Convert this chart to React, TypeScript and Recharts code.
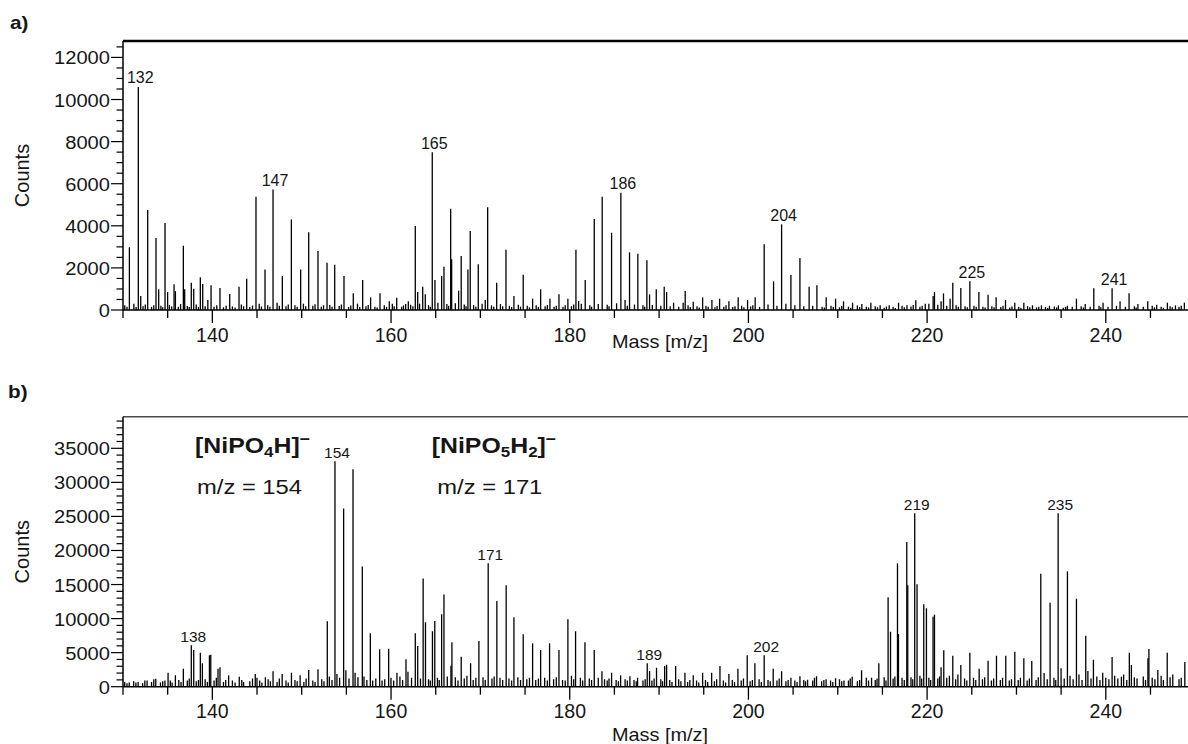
import { BarChart, Bar, XAxis, YAxis, ReferenceLine, LabelList, Label } from "recharts";

// ---- panel a: main peaks [m/z, counts]
const peaksA: [number, number][] = [
  [130.72, 2980], [131.72, 10600], [131.99, 665], [132.77, 4750], [133.7, 3420], [134.0, 980],
  [134.71, 4130], [135.0, 855], [135.72, 1220], [135.87, 893], [136.76, 3050], [136.91, 980],
  [137.65, 1300], [137.92, 1010], [138.66, 1550], [138.93, 1235], [139.86, 1170], [140.86, 1045],
  [141.95, 760], [142.99, 1110], [143.85, 1490], [144.89, 5380], [145.9, 1930], [146.8, 5730],
  [147.84, 1615], [148.85, 4305], [149.89, 1930], [150.79, 3690], [151.83, 2800], [152.84, 2250],
  [153.7, 2150], [154.74, 1615], [155.78, 790], [156.83, 1425], [157.72, 600], [158.77, 790],
  [159.81, 412], [160.64, 585], [161.64, 285], [161.94, 410], [162.72, 3990], [162.99, 855],
  [163.55, 1107], [163.84, 745], [164.62, 7490], [164.92, 1425], [165.67, 1615], [165.93, 2055],
  [166.68, 4810], [166.79, 2407], [167.57, 917], [167.86, 2564], [168.61, 1930], [168.87, 3750],
  [169.77, 2170], [170.55, 475], [170.82, 4876], [171.83, 1296], [172.87, 2863], [173.76, 665],
  [174.8, 1676], [175.85, 537], [176.75, 983], [177.79, 537], [178.8, 745], [179.8, 537],
  [180.7, 2863], [181.0, 430], [181.74, 1425], [182.75, 4320], [183.64, 5380], [184.69, 3670],
  [185.73, 5570], [186.7, 2740], [187.63, 2673], [188.64, 2360], [188.94, 745], [189.69, 983],
  [190.58, 1107], [190.85, 855], [191.63, 347], [192.7, 347], [192.93, 900], [193.83, 395],
  [194.88, 600], [195.92, 475], [196.78, 537], [197.82, 412], [198.86, 600], [199.91, 475],
  [200.76, 600], [201.77, 3120], [202.82, 1362], [203.72, 4070], [204.76, 1662], [205.77, 2470],
  [206.8, 1107], [207.67, 1173], [208.71, 600], [209.76, 537], [210.65, 412], [211.66, 347],
  [212.7, 285], [213.71, 347], [214.75, 220], [215.76, 220], [216.81, 347], [217.75, 220],
  [218.74, 460], [219.8, 300], [220.68, 665], [220.83, 855], [221.57, 412], [221.84, 790],
  [222.58, 537], [222.88, 1296], [223.78, 1045], [224.79, 1362], [225.8, 855], [226.83, 727],
  [227.73, 600], [228.78, 475], [229.82, 347], [230.83, 347], [231.8, 220], [232.8, 220],
  [233.7, 200], [234.7, 220], [235.7, 200], [236.72, 537], [237.7, 285], [238.66, 1030],
  [239.7, 347], [240.71, 1030], [241.6, 412], [242.61, 790], [243.6, 285], [244.7, 412],
  [245.7, 250], [246.9, 347], [247.8, 220], [248.8, 347],
];

// baseline noise between the peaks
const noiseA: [number, number][] = [
  [130.2, 220], [130.45, 160], [131.22, 300], [131.47, 140], [132.25, 180], [132.5, 260], [133.2, 150], [133.45, 220],
  [134.25, 200], [134.45, 130], [135.2, 240], [135.45, 170], [136.2, 150], [136.45, 280], [137.2, 190], [137.42, 140],
  [138.2, 260], [138.45, 150], [139.2, 180], [139.5, 475], [140.2, 160], [140.5, 230], [141.25, 130], [141.55, 200],
  [142.25, 170], [142.55, 120], [143.25, 260], [143.5, 180], [144.2, 140], [144.5, 210], [145.25, 300], [145.5, 170],
  [146.2, 220], [146.45, 150], [147.25, 350], [147.5, 200], [148.25, 180], [148.5, 260], [149.25, 230], [149.5, 150],
  [150.2, 300], [150.45, 180], [151.25, 200], [151.5, 270], [152.2, 150], [152.45, 220], [153.15, 240], [153.4, 160],
  [154.2, 190], [154.45, 260], [155.25, 150], [155.5, 210], [156.25, 300], [156.5, 140], [157.2, 180], [157.45, 240],
  [158.2, 160], [158.45, 120], [159.25, 220], [159.5, 150], [160.15, 300], [160.35, 180], [161.2, 160], [161.4, 220],
  [162.2, 250], [162.45, 180], [163.2, 300], [164.2, 230], [164.4, 160], [165.25, 350], [166.25, 280], [166.45, 200],
  [167.2, 320], [168.2, 260], [168.4, 180], [169.25, 240], [169.5, 160], [170.2, 300], [171.25, 220], [171.5, 150],
  [172.25, 280], [172.5, 180], [173.25, 200], [173.5, 140], [174.25, 250], [174.5, 160], [175.25, 200], [175.5, 130],
  [176.25, 220], [176.5, 150], [177.25, 180], [177.5, 240], [178.25, 160], [178.5, 200], [179.25, 150], [179.5, 220],
  [180.2, 180], [180.45, 260], [181.3, 300], [182.25, 220], [182.45, 160], [183.2, 280], [184.2, 250], [184.4, 180],
  [185.25, 320], [186.2, 475], [186.45, 200], [187.25, 260], [188.2, 220], [188.4, 150], [189.25, 240], [190.2, 200],
  [191.25, 180], [192.2, 150], [193.25, 220], [193.5, 140], [194.25, 180], [194.5, 120], [195.25, 200], [195.5, 150],
  [196.25, 130], [196.5, 190], [197.25, 160], [197.5, 220], [198.25, 140], [198.5, 180], [199.25, 200], [199.5, 130],
  [200.25, 170], [200.5, 230], [201.25, 150], [202.2, 260], [203.2, 200], [204.2, 300], [205.2, 220], [206.2, 180],
  [207.2, 200], [208.25, 160], [208.5, 120], [209.25, 200], [209.5, 140], [210.2, 130], [210.45, 190], [211.2, 160],
  [211.45, 110], [212.2, 220], [212.45, 140], [213.2, 150], [213.45, 120], [214.2, 180], [214.45, 130], [215.2, 110],
  [215.45, 170], [216.2, 150], [216.45, 100], [217.2, 200], [217.45, 130], [218.2, 170], [218.45, 240], [219.2, 150],
  [219.45, 200], [220.2, 300], [221.2, 250], [222.2, 200], [223.25, 220], [223.5, 160], [224.25, 180], [224.5, 130],
  [225.25, 200], [225.5, 150], [226.25, 160], [226.5, 120], [227.25, 180], [227.5, 130], [228.25, 140], [228.5, 200],
  [229.25, 120], [229.5, 170], [230.25, 150], [230.5, 110], [231.25, 180], [231.5, 130], [232.25, 120], [232.5, 160],
  [233.25, 140], [233.5, 100], [234.25, 170], [234.5, 120], [235.25, 110], [235.5, 150], [236.25, 160], [237.25, 180],
  [237.5, 120], [238.25, 150], [239.25, 200], [239.45, 130], [240.25, 160], [241.2, 200], [242.2, 150], [243.2, 180],
  [243.4, 120], [244.2, 160], [245.2, 200], [245.45, 130], [246.2, 150], [246.45, 110], [247.2, 180], [247.45, 130],
  [248.2, 150], [248.45, 200],
];

// nominal masses printed above the strongest peaks
const tagsA: [number, string][] = [
  [131.72, "132"], [146.8, "147"], [164.62, "165"], [185.73, "186"],
  [203.72, "204"], [224.79, "225"], [240.71, "241"],
];

// ---- panel b
const peaksB: [number, number][] = [
  [130.7, 600], [131.7, 700], [132.7, 900], [133.67, 1175], [134.7, 900], [135.05, 2057],
  [135.87, 1665], [136.76, 2645], [137.65, 6070], [137.92, 5390], [138.66, 4995], [138.89, 3427],
  [139.68, 4603], [139.83, 4700], [140.64, 2645], [140.86, 2840], [141.83, 1665], [143.02, 1469],
  [144.81, 1860], [145.0, 1300], [145.94, 1400], [146.8, 2253], [147.82, 1860], [148.86, 2057],
  [149.83, 1665], [150.79, 2448], [151.83, 2550], [152.87, 9600], [153.73, 33100], [154.7, 26150],
  [155.75, 31930], [156.79, 17630], [157.69, 7836], [158.73, 5484], [159.74, 5580], [160.67, 2057],
  [161.68, 4015], [162.72, 7836], [162.99, 5980], [163.6, 15870], [163.86, 9450], [164.64, 8130],
  [164.9, 9650], [165.67, 10630], [165.93, 13520], [166.71, 3085], [166.82, 6510], [167.86, 4407],
  [168.91, 3427], [169.84, 6710], [170.88, 18120], [171.85, 12590], [172.89, 14890], [173.76, 10190],
  [174.8, 7690], [175.85, 6370], [176.75, 5390], [177.75, 6370], [178.8, 5390], [179.8, 9890],
  [180.66, 8130], [181.71, 6510], [182.75, 5390], [183.61, 2253], [184.69, 2057], [185.7, 1665],
  [186.74, 1520], [187.6, 1320], [188.68, 3427], [188.94, 2300], [189.72, 2790], [190.63, 3040],
  [190.85, 3230], [191.86, 3040], [192.9, 2057], [193.83, 1665], [194.88, 2057], [195.89, 2057],
  [196.82, 3040], [197.82, 1860], [198.83, 2645], [199.87, 4600], [200.73, 3427], [201.77, 4600],
  [202.78, 2645], [203.72, 2253], [204.76, 1320], [205.77, 1520], [206.63, 1030], [207.63, 1520],
  [208.7, 1100], [209.76, 1225], [210.7, 900], [211.62, 1470], [212.67, 2400], [213.79, 1320],
  [214.6, 3427], [215.64, 13130], [215.91, 8080], [216.69, 18120], [216.8, 7740], [217.73, 21250],
  [217.84, 14890], [218.62, 25460], [218.88, 15030], [219.63, 12100], [219.93, 11510], [220.67, 10280],
  [220.83, 10580], [221.57, 2840], [221.87, 5340], [222.88, 4550], [223.78, 3180], [224.79, 4995],
  [225.83, 2645], [226.83, 3820], [227.77, 4550], [228.81, 4550], [229.82, 5140], [230.83, 4160],
  [231.72, 3770], [232.73, 16600], [233.77, 12340], [234.67, 25460], [235.71, 16940], [236.72, 12930],
  [237.76, 7490], [238.62, 3970], [239.66, 2057], [240.71, 4360], [241.75, 1470], [242.64, 4995],
  [242.87, 3180], [244.72, 4160], [244.83, 5540], [245.83, 2450], [246.88, 4995], [248.85, 3620],
];

const noiseB: [number, number][] = [
  [130.2, 700], [130.45, 500], [131.2, 800], [131.45, 600], [132.2, 500], [132.45, 900], [133.2, 700], [133.45, 1100],
  [134.2, 600], [134.45, 800], [135.3, 900], [135.5, 600], [136.25, 1000], [136.5, 700], [137.2, 900], [137.42, 1200],
  [138.2, 800], [138.45, 1000], [139.2, 1100], [139.45, 700], [140.2, 900], [140.45, 1300], [141.25, 700], [141.5, 1000],
  [142.25, 900], [142.55, 600], [143.3, 1000], [143.5, 700], [144.2, 800], [144.5, 1200], [145.3, 900], [145.55, 600],
  [146.25, 1100], [146.5, 800], [147.25, 700], [147.5, 1200], [148.25, 900], [148.5, 600], [149.25, 1000], [149.5, 800],
  [150.25, 700], [150.5, 1200], [151.25, 900], [151.5, 700], [152.25, 1100], [152.5, 800], [153.1, 1500], [153.4, 1000],
  [153.95, 1860], [154.25, 1300], [154.95, 2400], [155.3, 1200], [155.98, 2060], [156.3, 1400], [156.98, 1500], [157.3, 1000],
  [157.95, 900], [158.3, 1200], [159.0, 900], [159.3, 1100], [160.0, 1300], [160.3, 900], [161.0, 1500], [161.3, 1000],
  [161.9, 2200], [162.3, 1300], [163.3, 1200], [164.2, 1100], [164.4, 900], [165.2, 1300], [165.4, 1000], [166.3, 1500],
  [167.2, 1400], [167.5, 900], [168.2, 1200], [168.5, 1600], [169.2, 1000], [169.5, 1300], [170.3, 1400], [170.55, 1000],
  [171.3, 1200], [171.55, 1500], [172.2, 1300], [172.5, 1000], [173.2, 1200], [173.5, 900], [174.2, 1400], [174.5, 1000],
  [175.2, 1100], [175.5, 1300], [176.2, 1000], [176.5, 1200], [177.2, 1300], [177.5, 900], [178.2, 1100], [178.5, 1400],
  [179.2, 1000], [179.5, 900], [180.2, 1600], [180.45, 1100], [181.2, 1300], [181.45, 900], [182.2, 1200], [182.45, 1000],
  [183.2, 1300], [183.9, 1100], [184.2, 900], [184.4, 1200], [185.2, 1000], [185.45, 800], [186.2, 1100], [186.45, 900],
  [187.2, 1000], [187.45, 800], [188.2, 900], [188.45, 1100], [189.2, 900], [189.45, 1200], [190.2, 1100], [190.4, 800],
  [191.2, 1000], [191.45, 700], [192.2, 1100], [192.45, 800], [193.2, 700], [193.45, 1000], [194.2, 900], [194.45, 600],
  [195.2, 1000], [195.45, 700], [196.2, 800], [196.45, 1100], [197.2, 900], [197.45, 600], [198.2, 1000], [198.45, 700],
  [199.2, 900], [199.45, 1200], [200.2, 800], [200.45, 1000], [201.2, 1100], [201.45, 700], [202.2, 1000], [202.45, 800],
  [203.2, 900], [203.45, 1200], [204.2, 800], [204.45, 1000], [205.2, 900], [205.45, 700], [206.2, 1000], [206.4, 800],
  [207.2, 900], [207.4, 1300], [208.2, 800], [208.45, 1000], [209.2, 900], [209.45, 700], [210.2, 1100], [210.45, 800],
  [211.2, 900], [211.4, 1200], [212.2, 800], [212.45, 1000], [213.2, 1300], [213.45, 900], [214.2, 1000], [214.4, 1200],
  [215.2, 1400], [215.4, 900], [216.2, 1200], [216.4, 1500], [217.2, 1300], [217.45, 1000], [218.2, 1400], [218.4, 1100],
  [219.2, 1600], [219.4, 1200], [220.2, 1300], [220.4, 1000], [221.2, 1200], [221.4, 1500], [222.2, 1300], [222.5, 1600],
  [223.2, 1100], [223.45, 1800], [224.2, 1200], [224.45, 900], [225.2, 1300], [225.45, 1000], [226.2, 1100], [226.45, 1400],
  [227.2, 900], [227.45, 1200], [228.2, 1000], [228.45, 1300], [229.2, 900], [229.45, 1100], [230.2, 1000], [230.45, 1300],
  [231.2, 900], [231.45, 1200], [232.2, 1000], [232.45, 1400], [233.1, 2000], [233.45, 1100], [234.2, 1300], [234.4, 1000],
  [235.0, 2700], [235.35, 1200], [236.0, 1600], [236.35, 1100], [237.0, 1800], [237.35, 1000], [238.0, 2300], [238.35, 1200],
  [239.0, 1500], [239.35, 1000], [240.0, 1300], [240.35, 1100], [241.0, 1600], [241.35, 1200], [242.0, 1800], [242.35, 1000],
  [243.2, 1400], [243.5, 1200], [244.2, 1500], [244.45, 1000], [245.2, 1300], [245.5, 1100], [246.2, 1600], [246.45, 1000],
  [247.2, 1400], [247.5, 1800], [248.2, 1100], [248.45, 1300],
];

const tagsB: [number, string][] = [
  [137.65, "138"], [153.73, "154"], [170.88, "171"], [188.68, "189"],
  [201.77, "202"], [218.62, "219"], [234.67, "235"],
];

// ---- axes
const xDomain: [number, number] = [130, 249.2];
const xTicks = [130, 135, 140, 145, 150, 155, 160, 165, 170, 175, 180, 185, 190, 195, 200, 205, 210, 215, 220, 225, 230, 235, 240, 245];
const xLabels = [140, 160, 180, 200, 220, 240];

const yTicksA = [0, 500, 1000, 1500, 2000, 2500, 3000, 3500, 4000, 4500, 5000, 5500, 6000, 6500, 7000, 7500, 8000, 8500, 9000, 9500, 10000, 10500, 11000, 11500, 12000, 12500];
const yLabelsA = [0, 2000, 4000, 6000, 8000, 10000, 12000];
const yTicksB = [0, 1000, 2000, 3000, 4000, 5000, 6000, 7000, 8000, 9000, 10000, 11000, 12000, 13000, 14000, 15000, 16000, 17000, 18000, 19000, 20000, 21000, 22000, 23000, 24000, 25000, 26000, 27000, 28000, 29000, 30000, 31000, 32000, 33000, 34000, 35000, 36000, 37000, 38000, 39000];
const yLabelsB = [0, 5000, 10000, 15000, 20000, 25000, 30000, 35000];

const FONT = "'Liberation Sans', Arial, Helvetica, sans-serif";
const INK = "#161616";

type Row = { mz: number; counts: number; tag?: string };

function buildRows(peaks: [number, number][], noise: [number, number][], tags: [number, string][]): Row[] {
  const tagOf = new Map(tags);
  const rows: Row[] = [
    ...peaks.map(([mz, counts]) => ({ mz, counts, tag: tagOf.get(mz) })),
    ...noise.map(([mz, counts]) => ({ mz, counts })),
  ];
  return rows.sort((a, b) => a.mz - b.mz);
}

const rowsA = buildRows(peaksA, noiseA, tagsA);
const rowsB = buildRows(peaksB, noiseB, tagsB);

// text squeezed/stretched horizontally around its anchor
function T({ x, y, size, sx = 1, anchor = "middle", weight = 400, children }: any) {
  return (
    <text
      transform={`translate(${x} ${y}) scale(${sx} 1)`}
      fontSize={size}
      fontFamily={FONT}
      fontWeight={weight}
      textAnchor={anchor}
      fill={INK}
    >
      {children}
    </text>
  );
}

// one vertical stick per m/z value
const Stick = (p: any) => {
  const cx = p.x + p.width / 2;
  return <line x1={cx} x2={cx} y1={p.y} y2={p.y + p.height} stroke="#000" strokeWidth={1.3} />;
};

const XTick = (p: any) => {
  const v = p.payload.value;
  const major = xLabels.includes(v);
  return (
    <g>
      <line x1={p.x} x2={p.x} y1={p.y} y2={p.y + (major ? 13 : 8)} stroke="#000" strokeWidth={1.3} />
      {major && (
        <T x={p.x} y={p.y + 31.5} size={19.5}>
          {v}
        </T>
      )}
    </g>
  );
};

const makeYTick = (labels: number[]) => (p: any) => {
  const v = p.payload.value;
  const major = labels.includes(v);
  return (
    <g>
      <line x1={p.x - (major ? 12 : 6.5)} x2={p.x} y1={p.y} y2={p.y} stroke="#000" strokeWidth={1.2} />
      {major && (
        <T x={p.x - 13} y={p.y + 7} size={19} sx={1.06} anchor="end">
          {v}
        </T>
      )}
    </g>
  );
};

const countsLabel = (p: any) => {
  const vb = p.viewBox;
  return (
    <text
      transform={`translate(29 ${vb.y + vb.height / 2}) rotate(-90)`}
      fontSize={20}
      fontFamily={FONT}
      textAnchor="middle"
      fill={INK}
    >
      Counts
    </text>
  );
};

const massLabel = (dy: number) => (p: any) => (
  <T x={660} y={p.viewBox.y + dy} size={18.6} sx={1.07}>
    Mass [m/z]
  </T>
);

const tagLabel = (size: number) => (p: any) => {
  if (!p.value) return null;
  return (
    <T x={p.x + p.width / 2 + 2} y={p.y - 3.5} size={size}>
      {p.value}
    </T>
  );
};

type PanelProps = {
  rows: Row[];
  yTicks: number[];
  yLabels: number[];
  yMax: number;
  top: number;
  bottom: number;
  frame: string;
  frameWidth: number;
  tagSize: number;
  massDy: number;
};

function Spectrum({ rows, yTicks, yLabels, yMax, top, bottom, frame, frameWidth, tagSize, massDy }: PanelProps) {
  return (
    <BarChart width={1188} height={372} data={rows} margin={{ top, right: 0, bottom: 0, left: 0 }}>
      <XAxis
        type="number"
        dataKey="mz"
        domain={xDomain}
        allowDataOverflow
        ticks={xTicks}
        interval={0}
        height={bottom}
        tickSize={0}
        tickMargin={0}
        tickLine={false}
        tick={XTick}
        axisLine={{ stroke: "#000", strokeWidth: 1.5 }}
      >
        <Label content={massLabel(massDy)} />
      </XAxis>
      <YAxis
        type="number"
        domain={[0, yMax]}
        allowDataOverflow
        ticks={yTicks}
        interval={0}
        width={123}
        tickSize={0}
        tickMargin={0}
        tickLine={false}
        tick={makeYTick(yLabels)}
        axisLine={{ stroke: "#000", strokeWidth: 1.5 }}
      >
        <Label content={countsLabel} />
      </YAxis>
      <ReferenceLine y={yMax} stroke={frame} strokeWidth={frameWidth} />
      <Bar dataKey="counts" shape={Stick} barSize={1} isAnimationActive={false}>
        <LabelList dataKey="tag" content={tagLabel(tagSize)} />
      </Bar>
    </BarChart>
  );
}

export default function App() {
  return (
    <div style={{ position: "absolute", left: 0, top: 0, width: 1188, height: 744, background: "#fff", overflow: "hidden" }}>
      <Spectrum
        rows={rowsA}
        yTicks={yTicksA}
        yLabels={yLabelsA}
        yMax={12780}
        top={41}
        bottom={62}
        frame="#000"
        frameWidth={2.6}
        tagSize={16}
        massDy={38}
      />
      <Spectrum
        rows={rowsB}
        yTicks={yTicksB}
        yLabels={yLabelsB}
        yMax={39640}
        top={44.7}
        bottom={57.3}
        frame="#4a4a4a"
        frameWidth={1.6}
        tagSize={15.5}
        massDy={54.3}
      />
      <svg width={1188} height={744} style={{ position: "absolute", left: 0, top: 0, pointerEvents: "none" }}>
        <T x={10} y={29} size={18} sx={1.15} anchor="start" weight={700}>
          a)
        </T>
        <T x={8} y={398} size={18} sx={1.15} anchor="start" weight={700}>
          b)
        </T>
        <T x={195} y={452.7} size={22} sx={1.13} anchor="start" weight={700}>
          [NiPO<tspan fontSize={15} dy={4}>4</tspan>
          <tspan dy={-4}>H]</tspan>
          <tspan fontSize={16} dy={-9}>–</tspan>
        </T>
        <T x={197} y={494} size={20.5} sx={1.16} anchor="start">
          m/z = 154
        </T>
        <T x={431.7} y={453.3} size={22} sx={1.13} anchor="start" weight={700}>
          [NiPO<tspan fontSize={15} dy={4}>5</tspan>
          <tspan dy={-4}>H</tspan>
          <tspan fontSize={15} dy={4}>2</tspan>
          <tspan dy={-4}>]</tspan>
          <tspan fontSize={16} dy={-9}>–</tspan>
        </T>
        <T x={437.3} y={494} size={20.5} sx={1.16} anchor="start">
          m/z = 171
        </T>
      </svg>
    </div>
  );
}
